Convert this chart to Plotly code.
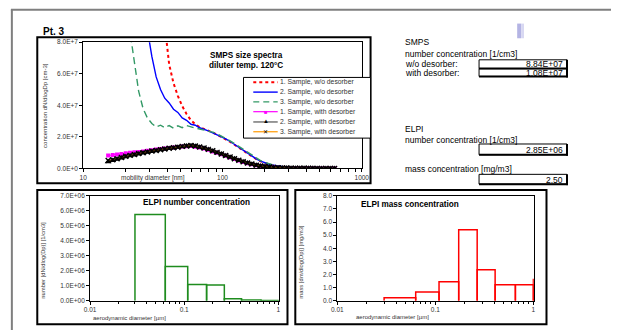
import plotly.graph_objects as go

W, H = 619, 333
def px(X): return X / W
def py(Y): return 1 - Y / H

FONT = "Liberation Sans, Arial, sans-serif"

# ---------------- SMPS data (dN/dlogDp, units of 1E7 cm-3) ----------------
diam_nm = [15.1, 16.3, 17.5, 18.8, 20.2, 21.7, 23.3, 25.0, 26.9, 28.9, 31.1, 33.4, 35.9,
           38.5, 41.4, 44.5, 47.8, 51.4, 55.2, 59.4, 63.8, 68.5, 73.7, 79.1, 85.1, 91.4,
           98.2, 105.5, 113.4, 121.9, 131.0, 140.7, 151.2, 162.5, 174.7, 187.7, 201.7,
           216.7, 232.9, 250.3, 269.0, 289.0, 310.6, 333.8, 358.7, 385.4, 414.2, 445.1,
           478.3, 514.0, 552.3, 593.5, 637.8]

s1_wo = [None, None, None, None, None, None, None, None, None, None, None, 14.0, 11.5,
         9.0, 6.6, 5.4, 4.6, 3.95, 3.45, 3.05, 2.8, 2.62, 2.52, 2.42, 2.28, 2.14,
         2.0, 1.86, 1.69, 1.5, 1.31, 1.12, 0.93, 0.75, 0.59, 0.45, 0.34,
         0.25, 0.18, 0.13, 0.1, 0.075, 0.056, 0.043, 0.033, 0.025, 0.019, 0.015,
         0.012, 0.009, 0.007, 0.006, 0.005]
s2_wo = [None, None, None, None, None, None, None, None, None, 8.8, 7.1, 5.8, 5.0,
         4.45, 4.15, 3.75, 3.55, 3.2, 3.05, 2.8, 2.74, 2.58, 2.5, 2.38, 2.26, 2.15,
         2.02, 1.88, 1.71, 1.53, 1.34, 1.14, 0.95, 0.77, 0.61, 0.47, 0.36,
         0.27, 0.2, 0.15, 0.11, 0.08, 0.06, 0.046, 0.035, 0.027, 0.02, 0.016,
         0.012, 0.01, 0.008, 0.006, 0.005]
s3_wo = [None, None, None, None, 10.5, 8.6, 6.6, 4.9, 3.8, 3.2, 2.85, 2.62, 2.74,
         2.58, 2.72, 2.55, 2.7, 2.58, 2.72, 2.62, 2.56, 2.5, 2.44, 2.38, 2.3, 2.2,
         2.06, 1.92, 1.75, 1.58, 1.4, 1.2, 1.0, 0.82, 0.65, 0.5, 0.38,
         0.28, 0.21, 0.15, 0.11, 0.08, 0.06, 0.046, 0.035, 0.027, 0.02, 0.016,
         0.012, 0.01, 0.008, 0.006, 0.005]
s1_with = [0.82, 0.86, 0.88, 0.92, 0.96, 0.99, 1.02, 1.05, 1.08, 1.12, 1.16, 1.2, 1.23,
           1.27, 1.3, 1.33, 1.36, 1.39, 1.41, 1.42, 1.38, 1.33, 1.26, 1.18, 1.08, 0.99,
           0.9, 0.8, 0.7, 0.6, 0.5, 0.41, 0.33, 0.26, 0.2, 0.15, 0.11,
           0.08, 0.06, 0.045, 0.034, 0.026, 0.02, 0.015, 0.012, 0.009, 0.007, 0.006,
           0.005, 0.004, 0.003, 0.003, 0.002]
s2_with = [0.42, 0.5, 0.58, 0.66, 0.74, 0.8, 0.86, 0.92, 0.98, 1.03, 1.08, 1.13, 1.18,
           1.22, 1.26, 1.3, 1.34, 1.38, 1.42, 1.44, 1.41, 1.35, 1.28, 1.2, 1.1, 1.0,
           0.91, 0.81, 0.71, 0.61, 0.51, 0.42, 0.34, 0.27, 0.21, 0.16, 0.12,
           0.09, 0.065, 0.048, 0.036, 0.027, 0.021, 0.016, 0.012, 0.009, 0.007, 0.006,
           0.005, 0.004, 0.003, 0.003, 0.002]
s3_with = [0.5, 0.56, 0.62, 0.7, 0.77, 0.83, 0.89, 0.95, 1.0, 1.05, 1.1, 1.14, 1.19,
           1.24, 1.28, 1.31, 1.35, 1.4, 1.43, 1.45, 1.42, 1.36, 1.3, 1.21, 1.12, 1.02,
           0.92, 0.82, 0.72, 0.62, 0.52, 0.43, 0.35, 0.28, 0.21, 0.16, 0.12,
           0.09, 0.066, 0.049, 0.037, 0.028, 0.021, 0.016, 0.012, 0.009, 0.007, 0.006,
           0.005, 0.004, 0.003, 0.003, 0.002]
UNIT = 1e7

series_names = ["1. Sample, w/o desorber", "2. Sample, w/o desorber", "3. Sample, w/o desorber",
                "1. Sample, with desorber", "2. Sample, with desorber", "3. Sample, with desorber"]

# ---------------- ELPI data ----------------
elpi_edges_um = [0.030, 0.063, 0.109, 0.173, 0.267, 0.407, 0.655, 1.0, 1.6]
elpi_number = [5.75e6, 2.28e6, 1.08e6, 1.05e6, 1.2e5, 4e4, 1.5e4, 5e3]
elpi_mass = [0.22, 0.66, 1.45, 5.42, 2.36, 1.22, 1.22, 1.62]

# ---------------- summary values ----------------
smps_wo = "8.84E+07"
smps_with = "1.08E+07"
elpi_num_total = "2.85E+06"
elpi_mass_total = "2.50"

main_yticks = [0, 2e7, 4e7, 6e7, 8e7]
main_yticktext = ["0.0E+0", "2.0E+7", "4.0E+7", "6.0E+7", "8.0E+7"]
num_yticks = [0, 1e6, 2e6, 3e6, 4e6, 5e6, 6e6, 7e6]
num_yticktext = ["0.0E+00", "1.0E+06", "2.0E+06", "3.0E+06", "4.0E+06", "5.0E+06", "6.0E+06", "7.0E+06"]
mass_yticks = [0, 1, 2, 3, 4, 5, 6, 7, 8]
mass_yticktext = ["0.0", "1.0", "2.0", "3.0", "4.0", "5.0", "6.0", "7.0", "8.0"]


def scale(vals):
    return [None if v is None else v * UNIT for v in vals]


def outline(edges, vals):
    xs, ys = [], []
    for i, v in enumerate(vals):
        l, r = edges[i], edges[i + 1]
        xs += [l, l, r, r, None]
        ys += [0, v, v, 0, None]
    return xs, ys


fig = go.Figure()

styles = [
    dict(line=dict(color="#ff0000", width=2, dash="3px,3px"), mode="lines"),
    dict(line=dict(color="#0000ff", width=1.4), mode="lines"),
    dict(line=dict(color="#339966", width=1.4, dash="7px,4px"), mode="lines"),
    dict(line=dict(color="#ff00ff", width=1.2), mode="lines+markers",
         marker=dict(symbol="square", size=4, color="#ff00ff")),
    dict(line=dict(color="#222222", width=1.5), mode="lines+markers",
         marker=dict(symbol="triangle-up", size=6, color="#000000")),
    dict(line=dict(color="#553300", width=1.2), mode="lines+markers",
         marker=dict(symbol="x-thin", size=5, color="#000000", line=dict(width=1.4, color="#000000"))),
]
for name, vals, st in zip(series_names, [s1_wo, s2_wo, s3_wo, s1_with, s2_with, s3_with], styles):
    fig.add_trace(go.Scatter(x=diam_nm, y=scale(vals), name=name, xaxis="x", yaxis="y",
                             showlegend=False, connectgaps=False, **st))

nx, ny = outline(elpi_edges_um, elpi_number)
fig.add_trace(go.Scatter(x=nx, y=ny, mode="lines", xaxis="x2", yaxis="y2", showlegend=False,
                         line=dict(color="#1e8c1e", width=1.5)))
mx, my = outline(elpi_edges_um, elpi_mass)
fig.add_trace(go.Scatter(x=mx, y=my, mode="lines", xaxis="x3", yaxis="y3", showlegend=False,
                         line=dict(color="#ff0000", width=1.5)))

tickfont = dict(family=FONT, size=6.5, color="#333333")
common_ax = dict(showline=True, linecolor="#000000", linewidth=1, mirror=True, showgrid=False,
                 zeroline=False, ticks="outside", ticklen=3, tickcolor="#000000", tickfont=tickfont)

minor_main = [20, 30, 40, 50, 60, 70, 80, 90, 200, 300, 400, 500, 600, 700, 800, 900]
minor_elpi = [0.02, 0.03, 0.04, 0.05, 0.06, 0.07, 0.08, 0.09, 0.2, 0.3, 0.4, 0.5, 0.6, 0.7, 0.8, 0.9]

fig.update_layout(
    width=W, height=H, margin=dict(l=0, r=0, t=0, b=0),
    paper_bgcolor="white", plot_bgcolor="white",
    font=dict(family=FONT, color="#000000"),
    xaxis=dict(domain=[px(79), px(364)], type="log", range=[1, 3], anchor="y",
               tickvals=[10, 100, 1000], ticktext=["10", "100", "1000"],
               minor=dict(tickvals=minor_main, ticks="outside", ticklen=3, tickcolor="#000"),
               **common_ax),
    yaxis=dict(domain=[py(168), py(39)], range=[0, 8e7], anchor="x",
               tickvals=main_yticks, ticktext=main_yticktext, **common_ax),
    xaxis2=dict(domain=[px(86), px(279)], type="log", range=[-2, 0.004], anchor="y2",
                tickvals=[0.01, 0.1, 1], ticktext=["0.01", "0.1", "1"],
                minor=dict(tickvals=minor_elpi, ticks="outside", ticklen=2, tickcolor="#000"),
                **common_ax),
    yaxis2=dict(domain=[py(303), py(196)], range=[0, 7e6], anchor="x2",
                tickvals=num_yticks, ticktext=num_yticktext, **common_ax),
    xaxis3=dict(domain=[px(339), px(540)], type="log", range=[-2, 0.004], anchor="y3",
                tickvals=[0.01, 0.1, 1], ticktext=["0.01", "0.1", "1"],
                minor=dict(tickvals=minor_elpi, ticks="outside", ticklen=2, tickcolor="#000"),
                **common_ax),
    yaxis3=dict(domain=[py(303), py(196)], range=[0, 8], anchor="x3",
                tickvals=mass_yticks, ticktext=mass_yticktext, **common_ax),
)

shapes = []
def rect(x0, y0, x1, y1, color="#000", width=1, fill=None, layer="above"):
    d = dict(type="rect", xref="paper", yref="paper", x0=px(x0), x1=px(x1), y0=py(y1), y1=py(y0),
             line=dict(color=color, width=width), layer=layer)
    if fill:
        d["fillcolor"] = fill
    shapes.append(d)

def line(x0, y0, x1, y1, color="#000", width=1, dash=None):
    l = dict(color=color, width=width)
    if dash:
        l["dash"] = dash
    shapes.append(dict(type="line", xref="paper", yref="paper", x0=px(x0), x1=px(x1),
                       y0=py(y0), y1=py(y1), line=l))

# page frame
line(5, 6, 619, 6, color="#7f7f7f", width=2)
line(6, 6, 6, 333, color="#7f7f7f", width=2)
# chart boxes
rect(32, 34, 373, 183, width=2)
rect(32, 190, 288, 327, width=2)
rect(296, 190, 553, 327, width=2)
# lavender mark
rect(523, 20, 527, 35, color="rgba(0,0,0,0)", width=0, fill="#b4b4e4")
rect(527, 20, 530, 35, color="rgba(0,0,0,0)", width=0, fill="#d8d8f2")
# value boxes
for (y0, y1) in [(57, 66), (66, 74), (143, 154), (174, 184)]:
    rect(484, y0, 574, y1, width=1)
    line(574, y0, 574, y1 + 1, width=2)
    line(484, y1, 575, y1, width=2)

# legend
rect(243, 75, 373, 137, width=1, fill="white")
leg_rows = [80, 90, 100, 110, 120.5, 130.5]
leg_line = [("#ff0000", 2, "3px,3px"), ("#0000ff", 1.4, None), ("#339966", 1.4, "6px,4px"),
            ("#ff00ff", 1.2, None), ("#555555", 1.2, None), ("#ff9900", 1.2, None)]
for yy, (c, w, dsh) in zip(leg_rows, leg_line):
    line(253, yy, 278, yy, color=c, width=w, dash=dsh)

annotations = []
def txt(X, Y, s, size=7, bold=False, xanchor="left", color="#000000", angle=0, yanchor="middle"):
    annotations.append(dict(x=px(X), y=py(Y), xref="paper", yref="paper", text=("<b>%s</b>" % s) if bold else s,
                            showarrow=False, xanchor=xanchor, yanchor=yanchor, textangle=angle,
                            font=dict(family=FONT, size=size, color=color), borderpad=0))

for yy, name in zip(leg_rows, series_names):
    txt(279, yy, name, size=6.8, color="#333333")
txt(266, 110, "■", size=6, xanchor="center", color="#ff00ff")
txt(266, 120, "▲", size=6, xanchor="center", color="#000000")
txt(266, 130.5, "✕", size=6, xanchor="center", color="#000000")

txt(37, 28, "Pt. 3", size=10, bold=True)
txt(246, 53, "SMPS size spectra", size=8.2, bold=True, xanchor="center")
txt(246, 63, "diluter temp. 120°C", size=8.2, bold=True, xanchor="center")
txt(40, 104, "concentration dN/dlogDp [cm-3]", size=6, angle=-90, xanchor="center", color="#333333")
txt(150, 178, "mobility diameter [nm]", size=6.5, xanchor="center", color="#333333")

txt(195, 203, "ELPI number concentration", size=8.2, bold=True, xanchor="center")
txt(38, 262, "number [dN/dlog(Dp)] [1/cm3]", size=5.8, angle=-90, xanchor="center", color="#333333")
txt(126, 321, "aerodynamic diameter [µm]", size=6, xanchor="center", color="#333333")

txt(413, 205, "ELPI mass concentration", size=8.2, bold=True, xanchor="center")
txt(302, 263, "mass [dm/dlog(Dp)] [mg/m3]", size=5.8, angle=-90, xanchor="center", color="#333333")
txt(395, 320, "aerodynamic diameter [µm]", size=6, xanchor="center", color="#333333")

txt(407, 39, "SMPS", size=8.5)
txt(407, 51, "number concentration [1/cm3]", size=8.5)
txt(407, 61.5, "w/o desorber:", size=8.5)
txt(407, 70.5, "with desorber:", size=8.5)
txt(571, 61.5, smps_wo, size=8.5, xanchor="right")
txt(571, 70.5, smps_with, size=8.5, xanchor="right")
txt(407, 128, "ELPI", size=8.5)
txt(407, 139, "number concentration [1/cm3]", size=8.5)
txt(571, 149, elpi_num_total, size=8.5, xanchor="right")
txt(407, 169, "mass concentration [mg/m3]", size=8.5)
txt(571, 179.5, elpi_mass_total, size=8.5, xanchor="right")

fig.update_layout(shapes=shapes, annotations=annotations)
fig.write_html("out.html")
